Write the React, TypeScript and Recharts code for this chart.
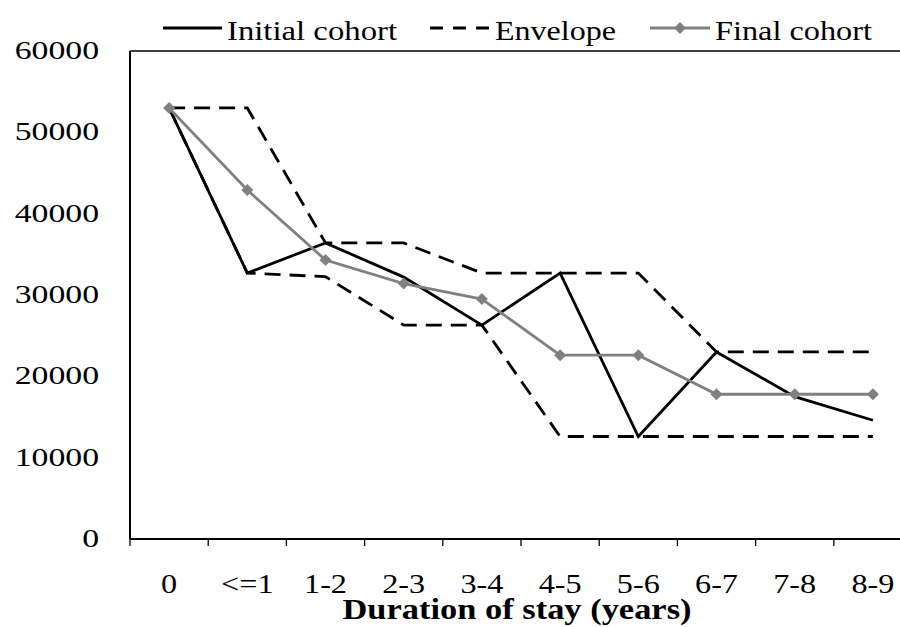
import { LineChart, Line, XAxis, YAxis, Legend, ReferenceLine } from 'recharts';

const categories = ['0', '<=1', '1-2', '2-3', '3-4', '4-5', '5-6', '6-7', '7-8', '8-9'];
const initialCohort = [53000, 32700, 36400, 32200, 26300, 32700, 12600, 23000, 17500, 14600];
const envelopeUpper = [53000, 53000, 36400, 36400, 32700, 32700, 32700, 23000, 23000, 23000];
const envelopeLower = [53000, 32700, 32250, 26300, 26300, 12600, 12600, 12600, 12600, 12600];
const finalCohort = [53000, 42900, 34300, 31400, 29500, 22600, 22600, 17800, 17800, 17800];
const yTicks = [0, 10000, 20000, 30000, 40000, 50000, 60000];

const data = categories.map((cat, i) => ({
  cat,
  initial: initialCohort[i],
  upper: envelopeUpper[i],
  lower: envelopeLower[i],
  final: finalCohort[i],
}));

const SERIF = "'Liberation Serif', 'Times New Roman', Times, serif";
const GRAY = '#808080';

const Diamond = ({ cx, cy }: { cx?: number; cy?: number }) => {
  if (cx == null || cy == null) return null;
  const r = 6;
  return (
    <polygon
      points={`${cx},${cy - r} ${cx + r},${cy} ${cx},${cy + r} ${cx - r},${cy}`}
      fill={GRAY}
      stroke="none"
    />
  );
};

const YTick = ({ x, y, payload }: any) => (
  <text
    transform={`translate(${x},${y}) scale(1.35,1)`}
    textAnchor="end"
    dy={8}
    style={{ fontFamily: SERIF }}
    fontSize={25}
    fill="#000"
  >
    {payload.value}
  </text>
);

const XTick = ({ x, y, payload }: any) => {
  const half = payload.offset ?? 39;
  return (
    <g>
      <line x1={x - half} x2={x - half} y1={y - 7} y2={y} stroke="#000" strokeWidth={1.3} />
      <text
        transform={`translate(${x},${y}) scale(1.15,1)`}
        textAnchor="middle"
        dy={47}
        style={{ fontFamily: SERIF }}
        fontSize={28}
        fill="#000"
      >
        {payload.value}
      </text>
    </g>
  );
};

const AxisTitle = ({ viewBox }: any) => {
  const cx = viewBox.x + viewBox.width / 2 - 4;
  return (
    <text
      x={cx}
      y={viewBox.y + 80}
      textAnchor="middle"
      style={{ fontFamily: SERIF }}
      fontWeight="bold"
      fontSize={29}
      textLength={349}
      lengthAdjust="spacingAndGlyphs"
      fill="#000"
    >
      Duration of stay (years)
    </text>
  );
};

const ChartLegend = () => (
  <svg width={900} height={40} style={{ display: 'block', fontFamily: SERIF }}>
    <line x1={163} x2={222} y1={17} y2={17} stroke="#000" strokeWidth={2.8} />
    <text x={227} y={29} fontSize={28} textLength={170} lengthAdjust="spacingAndGlyphs">
      Initial cohort
    </text>
    <line x1={430} x2={491} y1={17} y2={17} stroke="#000" strokeWidth={2.8} strokeDasharray="13 10" />
    <text x={495} y={29} fontSize={28} textLength={121} lengthAdjust="spacingAndGlyphs">
      Envelope
    </text>
    <line x1={650} x2={710} y1={17} y2={17} stroke={GRAY} strokeWidth={2.8} />
    <Diamond cx={680} cy={17} />
    <text x={715} y={29} fontSize={28} textLength={157} lengthAdjust="spacingAndGlyphs">
      Final cohort
    </text>
  </svg>
);

export default function App() {
  return (
    <div style={{ position: 'absolute', left: 0, top: 0, width: 900, height: 627, overflow: 'hidden', background: '#fff' }}>
      <LineChart width={920} height={627} data={data} margin={{ top: 11, right: 8, bottom: 0, left: 0 }}>
        <Legend verticalAlign="top" align="left" height={40} content={<ChartLegend />} />
        <XAxis
          dataKey="cat"
          scale="band"
          height={88}
          axisLine={{ stroke: '#000', strokeWidth: 2 }}
          tickLine={false}
          tickSize={7}
          tickMargin={0}
          interval={0}
          tick={<XTick />}
          label={<AxisTitle />}
        />
        <YAxis
          width={130}
          domain={[0, 60000]}
          ticks={yTicks}
          axisLine={{ stroke: '#000', strokeWidth: 2 }}
          tickLine={false}
          tickSize={0}
          tickMargin={31}
          tick={<YTick />}
        />
        <ReferenceLine y={60000} stroke="#000" strokeWidth={1.3} />
        <Line dataKey="initial" stroke="#000" strokeWidth={2.8} dot={false} isAnimationActive={false} />
        <Line dataKey="upper" stroke="#000" strokeWidth={2.8} strokeDasharray="16 9" dot={false} isAnimationActive={false} />
        <Line dataKey="lower" stroke="#000" strokeWidth={2.8} strokeDasharray="16 9" dot={false} isAnimationActive={false} />
        <Line dataKey="final" stroke={GRAY} strokeWidth={2.8} dot={<Diamond />} activeDot={false} isAnimationActive={false} />
      </LineChart>
    </div>
  );
}
